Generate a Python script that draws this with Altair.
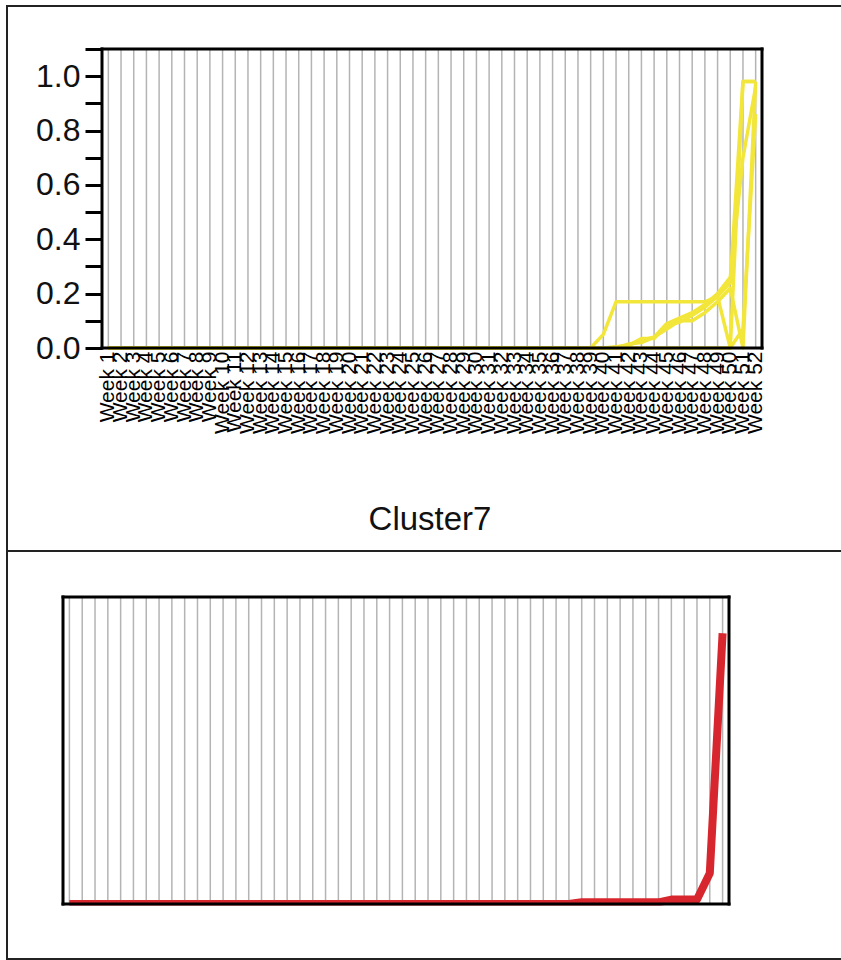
import altair as alt
import pandas as pd

# ---- data -------------------------------------------------------------
weeks = [f"Week {i}" for i in range(1, 53)]

# Members of Cluster7 (cumulative share reached by each week)
member_1 = [
    0, 0, 0, 0, 0, 0, 0, 0, 0, 0, 0, 0, 0,
    0, 0, 0, 0, 0, 0, 0, 0, 0, 0, 0, 0, 0,
    0, 0, 0, 0, 0, 0, 0, 0, 0, 0, 0, 0, 0,
    0.05, 0.17, 0.17, 0.17, 0.17, 0.17, 0.17, 0.17, 0.17, 0.19, 0.24, 0.98, 0.98,
]
member_2 = [
    0, 0, 0, 0, 0, 0, 0, 0, 0, 0, 0, 0, 0,
    0, 0, 0, 0, 0, 0, 0, 0, 0, 0, 0, 0, 0,
    0, 0, 0, 0, 0, 0, 0, 0, 0, 0, 0, 0, 0,
    0, 0.0, 0.01, 0.035, 0.035, 0.085, 0.095, 0.12, 0.15, 0.19, 0.0, 0.98, 0.98,
]
member_3 = [
    0, 0, 0, 0, 0, 0, 0, 0, 0, 0, 0, 0, 0,
    0, 0, 0, 0, 0, 0, 0, 0, 0, 0, 0, 0, 0,
    0, 0, 0, 0, 0, 0, 0, 0, 0, 0, 0, 0, 0,
    0, 0.005, 0.01, 0.03, 0.04, 0.07, 0.10, 0.10, 0.13, 0.17, 0.22, 0.0, 0.98,
]
member_4 = [
    0, 0, 0, 0, 0, 0, 0, 0, 0, 0, 0, 0, 0,
    0, 0, 0, 0, 0, 0, 0, 0, 0, 0, 0, 0, 0,
    0, 0, 0, 0, 0, 0, 0, 0, 0, 0, 0, 0, 0,
    0, 0, 0, 0, 0, 0, 0, 0, 0, 0, 0, 0.07, 0.86,
]
member_5 = [
    0, 0, 0, 0, 0, 0, 0, 0, 0, 0, 0, 0, 0,
    0, 0, 0, 0, 0, 0, 0, 0, 0, 0, 0, 0, 0,
    0, 0, 0, 0, 0, 0, 0, 0, 0, 0, 0, 0, 0,
    0, 0.0, 0.015, 0.02, 0.04, 0.09, 0.11, 0.13, 0.16, 0.20, 0.26, 0.70, 0.96,
]
members = {
    "member 1": member_1,
    "member 2": member_2,
    "member 3": member_3,
    "member 4": member_4,
    "member 5": member_5,
}

# Cluster profile (lower panel)
profile = [
    0, 0, 0, 0, 0, 0, 0, 0, 0, 0, 0, 0, 0,
    0, 0, 0, 0, 0, 0, 0, 0, 0, 0, 0, 0, 0,
    0, 0, 0, 0, 0, 0, 0, 0, 0, 0, 0, 0, 0,
    0, 0.006, 0.006, 0.006, 0.006, 0.006, 0.006, 0.006, 0.016, 0.016, 0.016, 0.11, 0.97,
]

y_ticks = [0.0, 0.1, 0.2, 0.3, 0.4, 0.5, 0.6, 0.7, 0.8, 0.9, 1.0, 1.1]

members_df = pd.DataFrame(
    [
        {"week": w, "member": name, "value": v}
        for name, vals in members.items()
        for w, v in zip(weeks, vals)
    ]
)
profile_df = pd.DataFrame({"week": weeks, "value": profile})
weeks_df = pd.DataFrame({"week": weeks})
one = pd.DataFrame({"k": [0]})

# ---- page geometry & styling -------------------------------------------
W, H = 841, 960
TOP = dict(x0=102, x1=762, y0=49, y1=348)   # upper plot area
BOT = dict(x0=63, x1=729, y0=597, y1=904)   # lower plot area

FONT = "Liberation Sans"
YELLOW = "#f3e63a"
RED = "#d7262d"
GRID = "#b4b4b4"
FRAME = "#222222"


def hline(x1, x2, y, width, color):
    return alt.Chart(one).mark_rule(color=color, strokeWidth=width, strokeCap="square").encode(
        x=alt.value(x1), x2=alt.value(x2), y=alt.value(y)
    )


def vline(x, y1, y2, width, color):
    return alt.Chart(one).mark_rule(color=color, strokeWidth=width, strokeCap="square").encode(
        x=alt.value(x), y=alt.value(y1), y2=alt.value(y2)
    )


def box(a, width=3, color="black"):
    return [
        hline(a["x0"], a["x1"], a["y0"], width, color),
        hline(a["x0"], a["x1"], a["y1"], width, color),
        vline(a["x0"], a["y0"], a["y1"], width, color),
        vline(a["x1"], a["y0"], a["y1"], width, color),
    ]


# ---- upper panel: individual members ------------------------------------
top_x = alt.Scale(domain=weeks, range=[TOP["x0"], TOP["x1"]])
top_y = alt.Scale(domain=[0, 1.1], nice=False, zero=True, range=[TOP["y1"], TOP["y0"]])

top_x_axis = alt.Axis(
    orient="bottom",
    offset=TOP["y1"] - H,
    title=None,
    labelAngle=-90,
    labelFontSize=21,
    labelFont=FONT,
    labelColor="black",
    labelPadding=3,
    labelOverlap=False,
    ticks=False,
    domain=False,
    grid=False,
)
top_y_axis = alt.Axis(
    orient="left",
    offset=-TOP["x0"],
    title=None,
    values=y_ticks,
    labelExpr="(round(datum.value * 10) % 2 == 0 && datum.value < 1.05) ? format(datum.value, '.1f') : ''",
    labelOverlap=False,
    tickSize=17,
    tickWidth=3,
    tickColor="black",
    domain=False,
    labelFontSize=32,
    labelFont=FONT,
    labelColor="#111111",
    labelPadding=5,
    grid=False,
)

top_grid = (
    alt.Chart(weeks_df)
    .mark_rule(color=GRID, strokeWidth=1.5)
    .encode(
        x=alt.X("week:O", scale=top_x, axis=top_x_axis),
        y=alt.value(TOP["y0"]),
        y2=alt.value(TOP["y1"]),
    )
)

member_lines = (
    alt.Chart(members_df)
    .mark_line(color=YELLOW, strokeWidth=3.5, strokeJoin="round")
    .encode(
        x=alt.X("week:O", scale=top_x, axis=top_x_axis),
        y=alt.Y("value:Q", scale=top_y, axis=top_y_axis),
        detail="member:N",
    )
)

top_panel = alt.layer(top_grid, member_lines)

# ---- lower panel: cluster profile ----------------------------------------
bot_x = alt.Scale(domain=weeks, range=[BOT["x0"], BOT["x1"]])
bot_y = alt.Scale(domain=[0, 1.1], nice=False, zero=True, range=[BOT["y1"], BOT["y0"]])

bot_grid = (
    alt.Chart(weeks_df)
    .mark_rule(color=GRID, strokeWidth=1.5)
    .encode(
        x=alt.X("week:O", scale=bot_x, axis=None),
        y=alt.value(BOT["y0"]),
        y2=alt.value(BOT["y1"]),
    )
)

profile_line = (
    alt.Chart(profile_df)
    .mark_line(color=RED, strokeWidth=8, strokeJoin="round")
    .encode(
        x=alt.X("week:O", scale=bot_x, axis=None),
        y=alt.Y("value:Q", scale=bot_y, axis=None),
    )
)

# keeps the thick profile line inside the lower frame
profile_mask = (
    alt.Chart(one)
    .mark_rect(color="white")
    .encode(
        x=alt.value(BOT["x0"] - 4),
        x2=alt.value(BOT["x1"] + 4),
        y=alt.value(BOT["y1"] + 1.5),
        y2=alt.value(BOT["y1"] + 12),
    )
)

bottom_panel = alt.layer(bot_grid, profile_line)

# ---- title and figure frame ----------------------------------------------
cluster_label = (
    alt.Chart(one)
    .mark_text(text="Cluster7", fontSize=33, font=FONT, color="#111111",
               align="center", baseline="middle")
    .encode(x=alt.value(430), y=alt.value(520))
)

figure_frame = [
    vline(7, 6, 959, 2, FRAME),
    hline(7, W + 4, 6, 2, FRAME),
    hline(7, W + 4, 551, 2, FRAME),
    hline(7, W + 4, 959, 2, FRAME),
]

chart = (
    alt.layer(
        top_panel,
        bottom_panel,
        profile_mask,
        *box(TOP),
        *box(BOT),
        cluster_label,
        *figure_frame,
    )
    .resolve_scale(x="independent", y="independent")
    .properties(
        width=W,
        height=H,
        padding=0,
        autosize=alt.AutoSizeParams(type="none"),
        background="white",
    )
    .configure_view(strokeWidth=0)
)

chart.save("out.html", embed_options={"renderer": "svg", "actions": False})
